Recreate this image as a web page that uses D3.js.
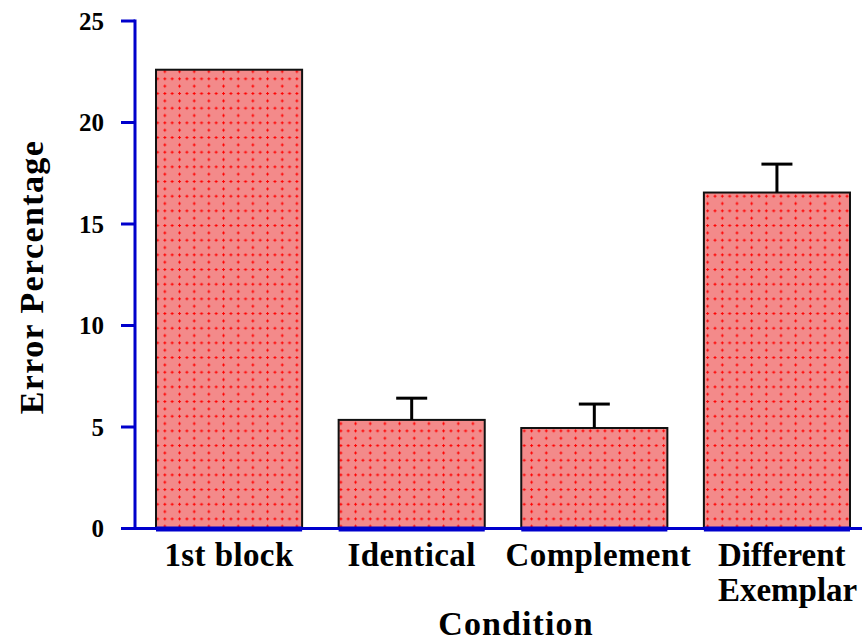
<!DOCTYPE html>
<html><head><meta charset="utf-8">
<script src="https://cdn.jsdelivr.net/npm/d3@7"></script>
<style>
html,body{margin:0;padding:0;background:#fff;}
svg text{font-family:'Liberation Serif','Times New Roman',Tinos,serif;font-weight:bold;}
</style>
</head><body>
<svg id="chart" width="862" height="641"></svg>
<script>
const categories = [["1st block"], ["Identical"], ["Complement"], ["Different", "Exemplar"]];
const catKeys = ["1st block", "Identical", "Complement", "Different Exemplar"];
const values = [22.6, 5.35, 4.95, 16.55];
const errors = [null, 1.07, 1.18, 1.4];
const yTicks = [0, 5, 10, 15, 20, 25];
const yTitle = "Error Percentage";
const xTitle = "Condition";

const svg = d3.select("#chart");
const font = "'Liberation Serif', 'Times New Roman', Tinos, serif";
const blue = "#0000cc";

const y = d3.scaleLinear().domain([0, 25]).range([528.5, 21]);
const x = d3.scaleBand().domain(catKeys).range([137.75, 868.25]).paddingInner(0.2).paddingOuter(0.1);

// pattern of red plus marks
const defs = svg.append("defs");
const T = 14.67;
const plus = defs.append("pattern").attr("id", "plus").attr("patternUnits", "userSpaceOnUse")
  .attr("width", T).attr("height", T).attr("x", 2).attr("y", 4);
[[1.5, 1.5], [1.5 + T / 2, 1.5], [1.5, 1.5 + T / 2]].forEach(([cx, cy]) => {
  plus.append("rect").attr("x", cx - 1.5).attr("y", cy - 0.5).attr("width", 3).attr("height", 1).attr("fill", "#ff0000");
  plus.append("rect").attr("x", cx - 0.5).attr("y", cy - 1.5).attr("width", 1).attr("height", 3).attr("fill", "#ff0000");
});

// bars
const g = svg.append("g");
catKeys.forEach((k, i) => {
  const x0 = x(k), w = x.bandwidth(), top = y(values[i]), h = y(0) - y(values[i]);
  g.append("rect").attr("x", x0).attr("y", top).attr("width", w).attr("height", h).attr("fill", "#f38a8a");
  g.append("rect").attr("x", x0).attr("y", top).attr("width", w).attr("height", h).attr("fill", "url(#plus)");
  g.append("rect").attr("x", x0).attr("y", top).attr("width", w).attr("height", h)
    .attr("fill", "none").attr("stroke", "#111").attr("stroke-width", 2);
  if (errors[i] != null) {
    const cx = x0 + w / 2;
    g.append("line").attr("x1", cx).attr("x2", cx).attr("y1", top).attr("y2", y(values[i] + errors[i]))
      .attr("stroke", "#000").attr("stroke-width", 3);
    g.append("line").attr("x1", cx - 15.5).attr("x2", cx + 15.5)
      .attr("y1", y(values[i] + errors[i])).attr("y2", y(values[i] + errors[i]))
      .attr("stroke", "#000").attr("stroke-width", 3);
  }
});

// axes
const ax = svg.append("g");
ax.append("line").attr("x1", 135).attr("x2", 135).attr("y1", y(25) - 1.5).attr("y2", y(0))
  .attr("stroke", blue).attr("stroke-width", 3);
ax.append("line").attr("x1", 121).attr("x2", 862).attr("y1", y(0)).attr("y2", y(0))
  .attr("stroke", blue).attr("stroke-width", 3);
catKeys.forEach(k => {
  ax.append("line").attr("x1", x(k)).attr("x2", x(k) + x.bandwidth()).attr("y1", y(0) + 0.5).attr("y2", y(0) + 0.5)
    .attr("stroke", blue).attr("stroke-width", 5);
});
yTicks.forEach(t => {
  ax.append("line").attr("x1", 121).attr("x2", 135).attr("y1", y(t)).attr("y2", y(t))
    .attr("stroke", blue).attr("stroke-width", 3);
  ax.append("text").attr("x", 104).attr("y", y(t)).attr("dy", "0.34em").attr("text-anchor", "end")
    .attr("font-family", font).attr("font-weight", "bold").attr("font-size", 25).attr("fill", "#000").text(t);
});

// category labels
categories.forEach((lines, i) => {
  const multi = lines.length > 1;
  const cx = multi ? x(catKeys[i]) + 14 : x(catKeys[i]) + x.bandwidth() / 2 + (i === 2 ? 4 : 0);
  lines.forEach((ln, j) => {
    svg.append("text").attr("x", cx).attr("y", 566 + j * 35).attr("text-anchor", multi ? "start" : "middle")
      .attr("font-family", font).attr("font-weight", "bold").attr("font-size", 33)
      .attr("letter-spacing", multi ? 0 : 0.4).attr("fill", "#000").text(ln);
  });
});

// titles
svg.append("text").attr("x", 516).attr("y", 635).attr("text-anchor", "middle")
  .attr("font-family", font).attr("font-weight", "bold").attr("font-size", 34)
  .attr("letter-spacing", 1.1).text(xTitle);
svg.append("text").attr("transform", "translate(43,277) rotate(-90)").attr("text-anchor", "middle")
  .attr("font-family", font).attr("font-weight", "bold").attr("font-size", 34)
  .attr("letter-spacing", 1.4).text(yTitle);
</script>
</body></html>
